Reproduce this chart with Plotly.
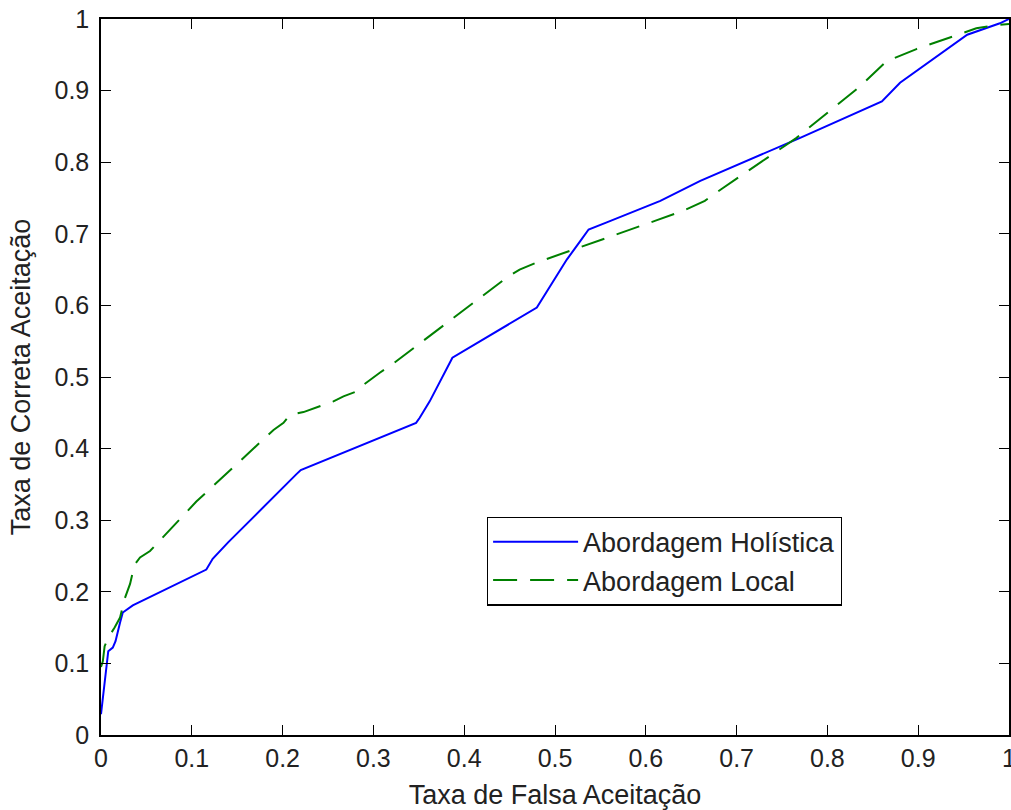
import plotly.graph_objects as go

# Abordagem Holística (blue, solid)
hol_x = [0.0, 0.002, 0.005, 0.008, 0.013, 0.016, 0.021, 0.024, 0.035, 0.116, 0.123, 0.140,
         0.215, 0.220, 0.347, 0.351, 0.362, 0.387, 0.480, 0.498, 0.513, 0.528, 0.537, 0.557,
         0.616, 0.660, 0.770, 0.860, 0.880, 0.954, 0.990, 1.0]
hol_y = [0.029, 0.052, 0.080, 0.117, 0.122, 0.131, 0.157, 0.171, 0.181, 0.231, 0.246, 0.269,
         0.364, 0.370, 0.436, 0.443, 0.466, 0.527, 0.597, 0.634, 0.664, 0.690, 0.706, 0.716,
         0.746, 0.774, 0.834, 0.885, 0.911, 0.978, 0.994, 1.0]

# Abordagem Local (green, dashed)
loc_x = [0.0, 0.002, 0.004, 0.008, 0.015, 0.021, 0.026, 0.032, 0.037, 0.043, 0.054, 0.105,
         0.190, 0.201, 0.208, 0.223, 0.256, 0.267, 0.282, 0.287, 0.307, 0.320, 0.447, 0.461,
         0.480, 0.513, 0.546, 0.610, 0.641, 0.665, 0.685, 0.766, 0.836, 0.865, 0.898, 0.931,
         0.964, 0.990, 1.0]
loc_y = [0.095, 0.103, 0.124, 0.136, 0.150, 0.164, 0.190, 0.211, 0.238, 0.248, 0.257, 0.326,
         0.426, 0.436, 0.447, 0.451, 0.466, 0.473, 0.480, 0.487, 0.506, 0.517, 0.639, 0.650,
         0.660, 0.675, 0.689, 0.718, 0.732, 0.746, 0.764, 0.834, 0.906, 0.941, 0.958, 0.973,
         0.987, 0.992, 0.993]

ticks = [0, 0.1, 0.2, 0.3, 0.4, 0.5, 0.6, 0.7, 0.8, 0.9, 1]
tick_text = ["0", "0.1", "0.2", "0.3", "0.4", "0.5", "0.6", "0.7", "0.8", "0.9", "1"]

FONT = "Liberation Sans"
TXT = "#222"

fig = go.Figure()
fig.add_trace(go.Scatter(x=hol_x, y=hol_y, mode="lines", name="Abordagem Holística",
                         line=dict(color="#0000FF", width=2)))
fig.add_trace(go.Scatter(x=loc_x, y=loc_y, mode="lines", name="Abordagem Local",
                         line=dict(color="#008000", width=2, dash="24px,13px")))

axis_common = dict(
    range=[0, 1], tickmode="array", tickvals=ticks, ticktext=tick_text,
    ticks="inside", ticklen=10, tickwidth=1.3, tickcolor="black",
    showline=True, linecolor="black", linewidth=1.5, mirror="ticks",
    showgrid=False, zeroline=False, automargin=False,
    ticklabeloverflow="allow",
    tickfont=dict(family=FONT, size=25, color=TXT),
)

fig.update_xaxes(**axis_common,
                 title=dict(text="Taxa de Falsa Aceitação", font=dict(family=FONT, size=27, color=TXT),
                            standoff=14))
fig.update_yaxes(**axis_common, ticklabelstandoff=5,
                 title=dict(text="Taxa de Correta Aceitação", font=dict(family=FONT, size=27, color=TXT),
                            standoff=16))

fig.update_layout(
    width=1011, height=810,
    margin=dict(l=101, r=2, t=19, b=75),
    plot_bgcolor="white", paper_bgcolor="white",
    font=dict(family=FONT, size=25, color=TXT),
    legend=dict(x=0.425, y=0.305, xanchor="left", yanchor="top",
                bordercolor="black", borderwidth=1.2, bgcolor="white",
                font=dict(family=FONT, size=27, color=TXT),
                itemwidth=85, tracegroupgap=0),
    showlegend=True,
)

fig.write_html("out.html",
               config={"displayModeBar": False},
               post_script="document.body.style.margin='0';document.body.style.overflow='hidden';")
